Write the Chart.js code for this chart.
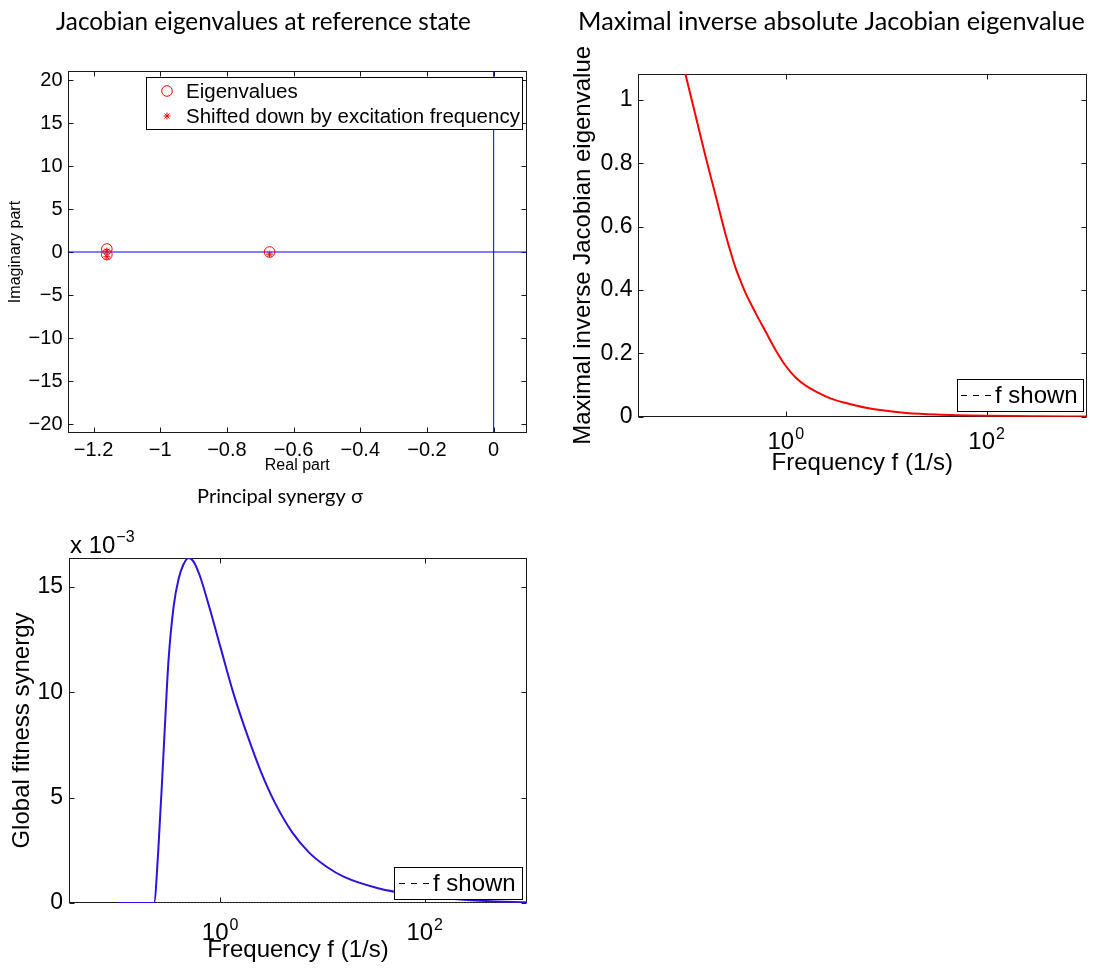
<!DOCTYPE html>
<html><head><meta charset="utf-8">
<script src="https://cdn.jsdelivr.net/npm/chart.js@4.4.1/dist/chart.umd.min.js"></script>
<style>
html,body{margin:0;padding:0;background:#fff;}
body{width:1094px;height:972px;position:relative;overflow:hidden;}
canvas{position:absolute;}
</style></head><body>
<canvas id="c1" width="547" height="480" style="left:0;top:0"></canvas>
<canvas id="c2" width="547" height="480" style="left:547px;top:0"></canvas>
<canvas id="c3" width="547" height="492" style="left:0;top:480px"></canvas>
<script>
// ---------------- data ----------------
const eigRe   = [-1.16, -1.16, -0.672];
const eigIm   = [0.35, -0.30, 0.0];
const shiftRe = [-1.16, -1.16, -0.672];
const shiftIm = [0.10, -0.55, -0.25];
const realRange = [-1.278, 0.1];
const imagRange = [-21, 21];

const freqRange = [1/30, 1000];
const decadeTicks = [1, 100];

const freqR  = [0.1, 0.126, 0.158, 0.2, 0.251, 0.282, 0.316, 0.355, 0.398, 0.501, 0.631, 0.794, 1, 1.26, 1.58, 2, 2.82, 3.98, 6.31, 10, 15.8, 31.6, 100, 316, 1000];
const invEig = [1.082, 0.952, 0.824, 0.698, 0.576, 0.520, 0.470, 0.428, 0.390, 0.327, 0.268, 0.210, 0.160, 0.123, 0.098, 0.079, 0.057, 0.043, 0.028, 0.0185, 0.012, 0.0068, 0.0028, 0.0011, 0.0004];
const invEigMax = 1.082;

const freqB   = [0.1, 0.226, 0.248, 0.279, 0.313, 0.352, 0.394, 0.437, 0.49, 0.55, 0.631, 0.794, 1, 1.36, 1.85, 2.52, 3.44, 5.07, 7.46, 11, 16.1, 35, 76, 158, 398, 1000];
const synergy = [0, 0, 0.0024, 0.0070, 0.0115, 0.0141, 0.0154, 0.01605, 0.01637, 0.0162, 0.01555, 0.01395, 0.0122, 0.0099, 0.00795, 0.0062, 0.00475, 0.00335, 0.00238, 0.00172, 0.00125, 0.0007, 0.0004, 0.00022, 0.00009, 0.00003];
const synergyMax = 0.01637;
const dottedX = [0.226, 1000];
const dottedY = [0, 0];

// ---------------- styles ----------------
const SANS = "'Liberation Sans', Arial, Helvetica, sans-serif";
const TFONT = "Lato, 'Open Sans', sans-serif";
const MINUS = '\u2212';
function fitSize(text, width){ const c=document.createElement('canvas').getContext('2d'); c.font='100px '+TFONT; return 100*width/c.measureText(text).width; }
function titleCfg(text, size, centerY, areaTop){
  const lh = size*1.2, pt = centerY - lh/2;
  return {display:true, text, color:'#000', font:{family:TFONT, size, weight:'normal'}, padding:{top:pt, bottom:areaTop-pt-lh}};
}
function fmt(v, d){ const s = String(+v.toFixed(d)); return s.replace('-', MINUS); }
const noGrid = {display:false, drawTicks:false};

// frame + inward ticks on all four sides
const frameTicks = {
  id:'frameTicks',
  beforeDatasetsDraw(chart, args, o){
    const {ctx, chartArea:a, scales} = chart;
    const L = o.len || 5;
    ctx.save();
    ctx.strokeStyle = '#1a1a1a'; ctx.lineWidth = 1;
    const l=Math.round(a.left)+0.5, r=Math.round(a.right)-0.5, t=Math.round(a.top)+0.5, b=Math.round(a.bottom)-0.5;
    ctx.strokeRect(l, t, r-l, b-t);
    ctx.beginPath();
    scales.x.ticks.forEach(tk=>{ const p=Math.round(scales.x.getPixelForValue(tk.value))+0.5; ctx.moveTo(p,b); ctx.lineTo(p,b-L); ctx.moveTo(p,t); ctx.lineTo(p,t+L); });
    scales.y.ticks.forEach(tk=>{ const p=Math.round(scales.y.getPixelForValue(tk.value))+0.5; ctx.moveTo(l,p); ctx.lineTo(l+L,p); ctx.moveTo(r,p); ctx.lineTo(r-L,p); });
    ctx.stroke();
    ctx.restore();
  }
};

// boxed legend inside the axes
const boxLegend = {
  id:'boxLegend',
  afterDraw(chart, args, o){
    if(!o || !o.items) return;
    const {ctx, chartArea:a} = chart;
    const x = Math.round(a.right - o.right - o.width);
    const y = Math.round(o.top != null ? a.top + o.top : a.bottom - o.bottom - o.height);
    ctx.save();
    ctx.fillStyle='#fff'; ctx.fillRect(x, y, o.width, o.height);
    ctx.strokeStyle='#000'; ctx.lineWidth=1; ctx.strokeRect(x+0.5, y+0.5, o.width, o.height);
    ctx.font = o.font; ctx.textBaseline='middle'; ctx.textAlign='left';
    o.items.forEach((idx, i)=>{
      const ds = chart.data.datasets[idx];
      const cy = y + o.rowTop + i*o.rowGap;
      ctx.strokeStyle = ds.borderColor; ctx.lineWidth = 1;
      if (ds.pointStyle === 'circle' && !ds.showLine) {
        ctx.beginPath(); ctx.arc(x+o.markerX, cy, ds.pointRadius, 0, Math.PI*2); ctx.stroke();
      } else if (ds.pointStyle === 'star') {
        const R = ds.pointRadius, cx = x+o.markerX, d = R*Math.SQRT1_2;
        ctx.beginPath();
        ctx.moveTo(cx, cy-R); ctx.lineTo(cx, cy+R); ctx.moveTo(cx-R, cy); ctx.lineTo(cx+R, cy);
        ctx.moveTo(cx-d, cy-d); ctx.lineTo(cx+d, cy+d); ctx.moveTo(cx-d, cy+d); ctx.lineTo(cx+d, cy-d);
        ctx.stroke();
      } else {
        ctx.setLineDash(ds.borderDash || []);
        ctx.beginPath(); ctx.moveTo(x+o.sampleX0, cy+0.5); ctx.lineTo(x+o.sampleX1, cy+0.5); ctx.stroke();
        ctx.setLineDash([]);
      }
      ctx.fillStyle='#000'; ctx.fillText(ds.label, x+o.textX, cy+1);
    });
    ctx.restore();
  }
};

// log tick labels with superscript exponents, multiplier label, rotated y-title
const extraText = {
  id:'extraText',
  afterDraw(chart, args, o){
    const {ctx, chartArea:a} = chart;
    ctx.save(); ctx.fillStyle='#000'; ctx.textAlign='left'; ctx.textBaseline='alphabetic';
    if (o.log) {
      const s = chart.scales.x;
      s.ticks.forEach(tk=>{
        const px = s.getPixelForValue(tk.value);
        const base='10', sup=String(Math.round(Math.log10(tk.value))).replace('-', MINUS);
        ctx.font = o.log.size+'px '+SANS; const wb = ctx.measureText(base).width;
        ctx.font = o.log.sup+'px '+SANS; const ws = ctx.measureText(sup).width;
        const x0 = px - (wb+ws+1)/2, by = a.bottom + o.log.baseline;
        ctx.font = o.log.size+'px '+SANS; ctx.fillText(base, x0, by);
        ctx.font = o.log.sup+'px '+SANS; ctx.fillText(sup, x0+wb+1, by - o.log.raise);
      });
    }
    if (o.mult) {
      const m = o.mult;
      ctx.font = m.size+'px '+SANS; const w = ctx.measureText(m.base).width;
      ctx.fillText(m.base, a.left + m.dx, a.top - m.dy);
      ctx.font = m.sup+'px '+SANS; ctx.fillText(m.exp, a.left + m.dx + w + 1, a.top - m.dy - m.raise);
    }
    if (o.ytitle) {
      const t = o.ytitle;
      ctx.font = t.size+'px '+SANS; ctx.textAlign='center'; ctx.textBaseline='middle';
      ctx.translate(t.x, (a.top+a.bottom)/2); ctx.rotate(-Math.PI/2);
      ctx.fillText(t.text, 0, 0);
    }
    ctx.restore();
  }
};

const base = {animation:false, responsive:false, events:[], devicePixelRatio:1};

const t1 = 'Jacobian eigenvalues at reference state';
const t2 = 'Maximal inverse absolute Jacobian eigenvalue';
const t3 = 'Principal synergy \u03c3';
const s1 = fitSize(t1, 415), s2 = fitSize(t2, 507), s3 = fitSize(t3, 166);

// ---------------- chart 1 ----------------
new Chart(document.getElementById('c1'), {
  type:'scatter',
  data:{datasets:[
    {label:'Eigenvalues', data:eigRe.map((x,i)=>({x, y:eigIm[i]})), pointStyle:'circle', pointRadius:5.3, borderColor:'#ff0000', backgroundColor:'rgba(0,0,0,0)', borderWidth:1, showLine:false},
    {label:'Shifted down by excitation frequency', data:shiftRe.map((x,i)=>({x, y:shiftIm[i]})), pointStyle:'star', pointRadius:3.5, borderColor:'#ff0000', backgroundColor:'#ff0000', borderWidth:1, showLine:false},
    {label:'zeroH', data:[{x:realRange[0], y:0},{x:realRange[1], y:0}], showLine:true, pointRadius:0, borderColor:'#0000ff', borderWidth:1},
    {label:'zeroV', data:[{x:0, y:imagRange[0]},{x:0, y:imagRange[1]}], showLine:true, pointRadius:0, borderColor:'#0000ff', borderWidth:1}
  ]},
  options:{...base,
    layout:{padding:{left:0, right:20, top:0, bottom:0}},
    scales:{
      x:{type:'linear', min:realRange[0], max:realRange[1],
         ticks:{stepSize:0.2, includeBounds:false, color:'#000', font:{family:SANS, size:20}, padding:6, maxRotation:0, autoSkip:false, callback:v=>fmt(v,2)},
         grid:noGrid, border:{display:false},
         title:{display:true, text:'Real part', color:'#000', font:{family:SANS, size:16}, padding:{top:0, bottom:4.5}},
         afterFit:s=>{s.height=47.4;}},
      y:{type:'linear', min:imagRange[0], max:imagRange[1],
         ticks:{stepSize:5, includeBounds:false, color:'#000', font:{family:SANS, size:20}, padding:5, autoSkip:false, callback:v=>fmt(v,0)},
         grid:noGrid, border:{display:false},
         title:{display:true, text:'Imaginary part', color:'#000', font:{family:SANS, size:16}, padding:{top:6, bottom:0}},
         afterFit:s=>{s.width=67.5;}}
    },
    plugins:{legend:{display:false}, tooltip:{enabled:false},
      title:titleCfg(t1, s1, 22, 71.4),
      frameTicks:{len:5},
      boxLegend:{items:[0,1], right:5.3, top:5.3, width:376, height:52, rowTop:14, rowGap:25, markerX:21, textX:40, font:'20.5px '+SANS}
    }
  },
  plugins:[frameTicks, boxLegend]
});

// ---------------- chart 2 ----------------
new Chart(document.getElementById('c2'), {
  type:'line',
  data:{datasets:[
    {label:'inv', data:freqR.map((x,i)=>({x, y:invEig[i]})), borderColor:'#ff0000', borderWidth:2, pointRadius:0, cubicInterpolationMode:'monotone', fill:false},
    {label:'f shown', data:[], borderColor:'#000000', borderDash:[6,6], borderWidth:1, pointRadius:0}
  ]},
  options:{...base,
    layout:{padding:{left:29, right:7, top:0, bottom:0}},
    scales:{
      x:{type:'logarithmic', min:freqRange[0], max:freqRange[1],
         afterBuildTicks:s=>{ s.ticks = decadeTicks.map(v=>({value:v, major:true})); },
         ticks:{display:false}, grid:noGrid, border:{display:false},
         title:{display:true, text:'Frequency f (1/s)', color:'#000', font:{family:SANS, size:24}, padding:{top:0, bottom:2.6}},
         afterFit:s=>{s.height=63.3;}},
      y:{type:'linear', min:0, max:invEigMax,
         ticks:{stepSize:0.2, includeBounds:false, color:'#000', font:{family:SANS, size:23}, padding:5, autoSkip:false, callback:v=>fmt(v,1)},
         grid:noGrid, border:{display:false},
         afterFit:s=>{s.width=61.5;}}
    },
    plugins:{legend:{display:false}, tooltip:{enabled:false},
      title:titleCfg(t2, s2, 22, 74),
      frameTicks:{len:5},
      boxLegend:{items:[1], right:4, bottom:5.7, width:126, height:32, rowTop:16, rowGap:0, sampleX0:4, sampleX1:35, textX:38, font:'24px '+SANS},
      extraText:{log:{size:24, sup:16, baseline:32, raise:10}, ytitle:{text:'Maximal inverse Jacobian eigenvalue', size:24, x:36}}
    }
  },
  plugins:[frameTicks, boxLegend, extraText]
});

// ---------------- chart 3 ----------------
new Chart(document.getElementById('c3'), {
  type:'line',
  data:{datasets:[
    {label:'synergy', data:freqB.map((x,i)=>({x, y:synergy[i]})), borderColor:'#2b14e0', borderWidth:2, pointRadius:0, cubicInterpolationMode:'monotone', fill:false},
    {label:'dotted', data:dottedX.map((x,i)=>({x, y:dottedY[i]})), borderColor:'#555555', borderDash:[1,2], borderWidth:1.5, pointRadius:0},
    {label:'f shown', data:[], borderColor:'#000000', borderDash:[6,6], borderWidth:1, pointRadius:0}
  ]},
  options:{...base,
    layout:{padding:{left:33, right:20, top:0, bottom:0}},
    scales:{
      x:{type:'logarithmic', min:freqRange[0], max:freqRange[1],
         afterBuildTicks:s=>{ s.ticks = decadeTicks.map(v=>({value:v, major:true})); },
         ticks:{display:false}, grid:noGrid, border:{display:false},
         title:{display:true, text:'Frequency f (1/s)', color:'#000', font:{family:SANS, size:24}, padding:{top:0, bottom:7.6}},
         afterFit:s=>{s.height=69;}},
      y:{type:'linear', min:0, max:synergyMax,
         ticks:{stepSize:0.005, includeBounds:false, color:'#000', font:{family:SANS, size:23}, padding:6, autoSkip:false, callback:v=>String(Math.round(v*1000))},
         grid:noGrid, border:{display:false},
         title:{display:true, text:'Global fitness synergy', color:'#000', font:{family:SANS, size:24}, padding:{top:-25.4, bottom:0}},
         afterFit:s=>{s.width=36;}}
    },
    plugins:{legend:{display:false}, tooltip:{enabled:false},
      title:titleCfg(t3, s3, 17, 78),
      frameTicks:{len:5},
      boxLegend:{items:[2], right:5, bottom:4, width:128, height:32, rowTop:16, rowGap:0, sampleX0:5, sampleX1:36, textX:39, font:'24px '+SANS},
      extraText:{log:{size:24, sup:16, baseline:37, raise:10}, mult:{base:'x 10', exp:MINUS+'3', size:24, sup:16, dx:1, dy:5, raise:11}}
    }
  },
  plugins:[frameTicks, boxLegend, extraText]
});
</script>
</body></html>
